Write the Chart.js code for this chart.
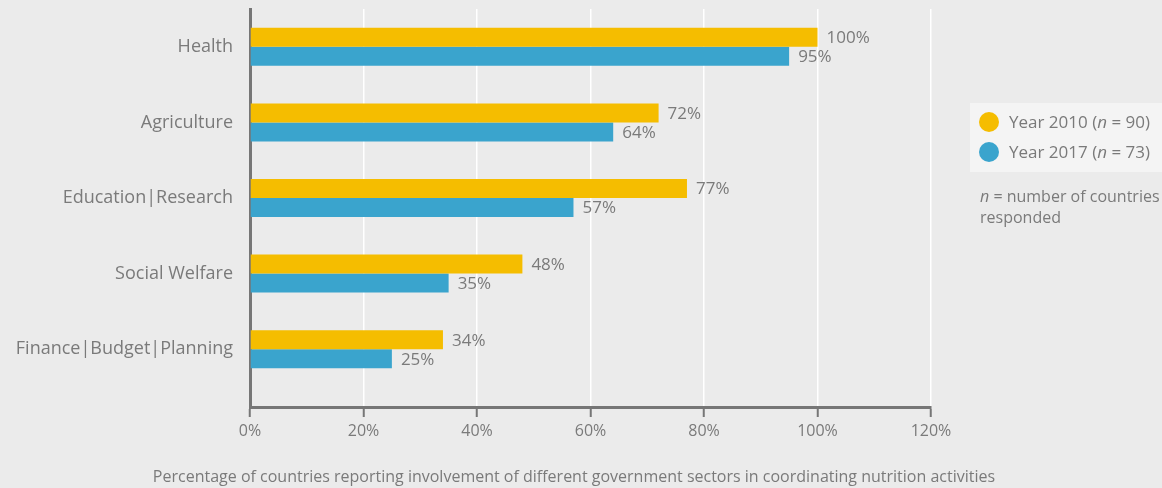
<!DOCTYPE html>
<html lang="en">
<head>
  <meta charset="UTF-8">
  <title>Government sectors coordinating nutrition activities</title>
  <script src="https://cdn.jsdelivr.net/npm/chart.js"></script>
  <style>
    body {
      margin: 0;
      background-color: #ebebeb;
      font-family: "Open Sans", sans-serif;
      color: #7a7a7a;
    }
    .wrap {
      position: relative;
      width: 1162px;
      height: 488px;
    }
    .legend {
      position: absolute;
      left: 970px;
      top: 103px;
      width: 192px;
      height: 69px;
      background-color: #f4f4f4;
      font-size: 17px;
    }
    .legend .item {
      position: absolute;
      left: 9px;
      height: 20px;
      line-height: 20px;
      white-space: nowrap;
    }
    .legend .dot {
      display: inline-block;
      width: 20px;
      height: 20px;
      border-radius: 50%;
      vertical-align: top;
      margin-right: 10px;
    }
    .note {
      position: absolute;
      left: 980px;
      top: 186px;
      font-size: 16px;
      line-height: 21px;
    }
    .xtitle {
      position: absolute;
      left: 0;
      width: 1148px;
      top: 465px;
      text-align: center;
      font-size: 16px;
    }
  </style>
</head>
<body>
  <div class="wrap">
    <canvas id="barChart" width="1162" height="488"></canvas>
    <div class="legend">
      <div class="item" style="top:9px"><span class="dot" style="background:#f5bd00"></span>Year 2010 (<i>n</i> = 90)</div>
      <div class="item" style="top:39px"><span class="dot" style="background:#3aa4cd"></span>Year 2017 (<i>n</i> = 73)</div>
    </div>
    <div class="note"><i>n</i> = number of countries<br>responded</div>
    <div class="xtitle">Percentage of countries reporting involvement of different government sectors in coordinating nutrition activities</div>
  </div>

  <script>
    // Dati
    const sectors = ["Health", "Agriculture", "Education|Research", "Social Welfare", "Finance|Budget|Planning"];
    const year2010 = [100, 72, 77, 48, 34];
    const year2017 = [95, 64, 57, 35, 25];
    const xTicks = [0, 20, 40, 60, 80, 100, 120];

    const GRAY = '#7a7a7a';
    const AXIS = '#767676';
    const FONT = '"Open Sans", sans-serif';

    // Etichette con il valore a destra di ogni barra
    const valueLabels = {
      id: 'valueLabels',
      afterDatasetsDraw(chart) {
        const ctx = chart.ctx;
        ctx.save();
        ctx.font = '17px ' + FONT;
        ctx.fillStyle = GRAY;
        ctx.textBaseline = 'middle';
        ctx.textAlign = 'left';
        chart.data.datasets.forEach((ds, i) => {
          chart.getDatasetMeta(i).data.forEach((bar, j) => {
            ctx.fillText(ds.data[j].x + '%', bar.x + 9, bar.y + 1);
          });
        });
        ctx.restore();
      }
    };

    const toPoints = arr => arr.map((v, i) => ({ x: v, y: i }));

    new Chart(document.getElementById('barChart'), {
      type: 'bar',
      data: {
        datasets: [
          { label: 'Year 2010 (n = 90)', data: toPoints(year2010), backgroundColor: '#f5bd00' },
          { label: 'Year 2017 (n = 73)', data: toPoints(year2017), backgroundColor: '#3aa4cd' }
        ]
      },
      options: {
        indexAxis: 'y',
        responsive: false,
        animation: false,
        categoryPercentage: 0.503,
        barPercentage: 1.0,
        layout: { padding: { left: 0, right: 231, top: 9, bottom: 0 } },
        plugins: {
          legend: { display: false },
          tooltip: { enabled: false }
        },
        scales: {
          x: {
            type: 'linear',
            min: 0,
            max: 120,
            afterBuildTicks: s => { s.ticks = xTicks.map(v => ({ value: v })); },
            afterFit: s => { s.height = 81; },
            grid: { color: '#ffffff', lineWidth: 1.5, tickColor: AXIS, tickWidth: 2, tickLength: 10 },
            border: { color: AXIS, width: 3 },
            ticks: {
              color: GRAY,
              font: { family: FONT, size: 16 },
              padding: 5,
              callback: v => v + '%'
            }
          },
          y: {
            type: 'linear',
            reverse: true,
            offset: false,
            min: -0.5,
            max: 4.765,
            afterBuildTicks: s => { s.ticks = sectors.map((_, i) => ({ value: i })); },
            afterFit: s => { s.width = 250; s.paddingTop = 0; s.paddingBottom = 0; },
            grid: { display: false, drawTicks: false, offset: false },
            border: { color: AXIS, width: 3 },
            ticks: {
              color: GRAY,
              font: { family: FONT, size: 18 },
              padding: 17,
              callback: v => sectors[v]
            }
          }
        }
      },
      plugins: [valueLabels]
    });
  </script>
</body>
</html>
